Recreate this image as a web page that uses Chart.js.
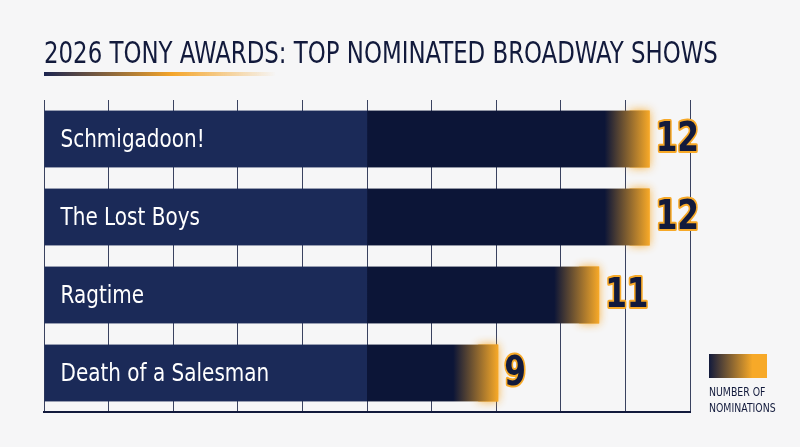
<!DOCTYPE html>
<html>
<head>
<meta charset="utf-8">
<script src="https://cdn.jsdelivr.net/npm/chart.js@4"></script>
<style>
  body { margin: 0; background: #f6f6f7; }
  #wrap { position: relative; width: 800px; height: 447px; }
  #title { position: absolute; left: 44px; top: 34px; font: 500 31px "DejaVu Sans Condensed", "Roboto", sans-serif;
    color: #121a3c; transform: scaleX(0.82); transform-origin: left top; white-space: nowrap; letter-spacing: 0px; }
  #rule { position: absolute; left: 44px; top: 72px; width: 232px; height: 4px;
    background: linear-gradient(to right, #1b2450, #f4a52a 55%, rgba(246,246,247,0)); }
</style>
</head>
<body>
<div id="wrap">
  <div id="title">2026 TONY AWARDS: TOP NOMINATED BROADWAY SHOWS</div>
  <div id="rule"></div>
  <canvas id="chart" width="800" height="447"></canvas>
</div>
<script>
const shows = ['Schmigadoon!', 'The Lost Boys', 'Ragtime', 'Death of a Salesman'];
const nominations = [12, 12, 11, 9];
const legendLines = ['NUMBER OF', 'NOMINATIONS'];

const NAVY = '#121a3c';
const ORANGE = '#f7a928';

function condensedText(ctx, text, x, y, font, sx) {
  ctx.save();
  ctx.translate(x, y);
  ctx.scale(sx, 1);
  ctx.font = font;
  ctx.fillText(text, 0, 0);
  ctx.restore();
}

const barPainter = {
  id: 'barPainter',
  afterDatasetsDraw(chart) {
    const ctx = chart.ctx;
    const area = chart.chartArea;
    const mid = (area.left + area.right) / 2;
    chart.getDatasetMeta(0).data.forEach((bar, i) => {
      const x0 = bar.base, x1 = bar.x;
      const top = bar.y - bar.height / 2, h = bar.height;
      const fade = 45;
      // orange glow at the end
      ctx.save();
      ctx.shadowColor = 'rgba(247,169,40,0.9)';
      ctx.shadowBlur = 10;
      ctx.fillStyle = ORANGE;
      ctx.fillRect(x1 - 20, top, 20, h);
      ctx.restore();
      // body: lighter left half, darker right half, fade into orange
      const g = ctx.createLinearGradient(x0, 0, x1, 0);
      const w = x1 - x0;
      const m = Math.min(1, (mid - x0) / w);
      g.addColorStop(0, '#1b2a58');
      g.addColorStop(m, '#1b2a58');
      g.addColorStop(Math.min(1, m + 0.001), '#0c1537');
      g.addColorStop(1 - fade / w, '#0c1537');
      g.addColorStop(1, ORANGE);
      ctx.fillStyle = g;
      ctx.fillRect(x0, top, w, h);
      // label in bar
      ctx.fillStyle = '#ffffff';
      ctx.textBaseline = 'middle';
      ctx.textAlign = 'left';
      condensedText(ctx, shows[i], x0 + 16, bar.y + 1, '500 25px "DejaVu Sans", sans-serif', 0.8);
      // value label with orange outline
      ctx.save();
      ctx.translate(x1 + 6, bar.y + 2);
      ctx.scale(0.78, 1);
      ctx.font = 'bold 40px "DejaVu Sans", sans-serif';
      ctx.textBaseline = 'middle';
      ctx.lineWidth = 4;
      ctx.strokeStyle = ORANGE;
      ctx.lineJoin = 'round';
      ctx.strokeText(String(nominations[i]), 0, 0);
      ctx.fillStyle = NAVY;
      ctx.fillText(String(nominations[i]), 0, 0);
      ctx.restore();
    });
    // legend
    const lg = ctx.createLinearGradient(709, 0, 767, 0);
    lg.addColorStop(0, '#121a3c');
    lg.addColorStop(0.75, ORANGE);
    lg.addColorStop(1, ORANGE);
    ctx.fillStyle = lg;
    ctx.fillRect(709, 354, 58, 24);
    ctx.fillStyle = NAVY;
    ctx.textBaseline = 'middle';
    legendLines.forEach((t, k) => condensedText(ctx, t, 709, 393 + k * 16, '13px "DejaVu Sans", sans-serif', 0.72));
  }
};

new Chart(document.getElementById('chart'), {
  type: 'bar',
  data: {
    labels: shows,
    datasets: [{ data: nominations, backgroundColor: 'rgba(0,0,0,0)', barPercentage: 0.9, categoryPercentage: 0.81 }]
  },
  options: {
    indexAxis: 'y',
    responsive: false,
    animation: false,
    layout: { padding: { left: 44, right: 110, top: 100, bottom: 35 } },
    plugins: { legend: { display: false }, tooltip: { enabled: false } },
    scales: {
      x: {
        min: 0, max: 12.8,
        ticks: { display: false, stepSize: 1.28 },
        grid: { color: '#3a4260', lineWidth: 1, drawTicks: false },
        border: { display: true, color: NAVY, width: 2 }
      },
      y: {
        ticks: { display: false },
        grid: { display: false, drawTicks: false },
        border: { display: false }
      }
    }
  },
  plugins: [barPainter]
});
</script>
</body>
</html>
